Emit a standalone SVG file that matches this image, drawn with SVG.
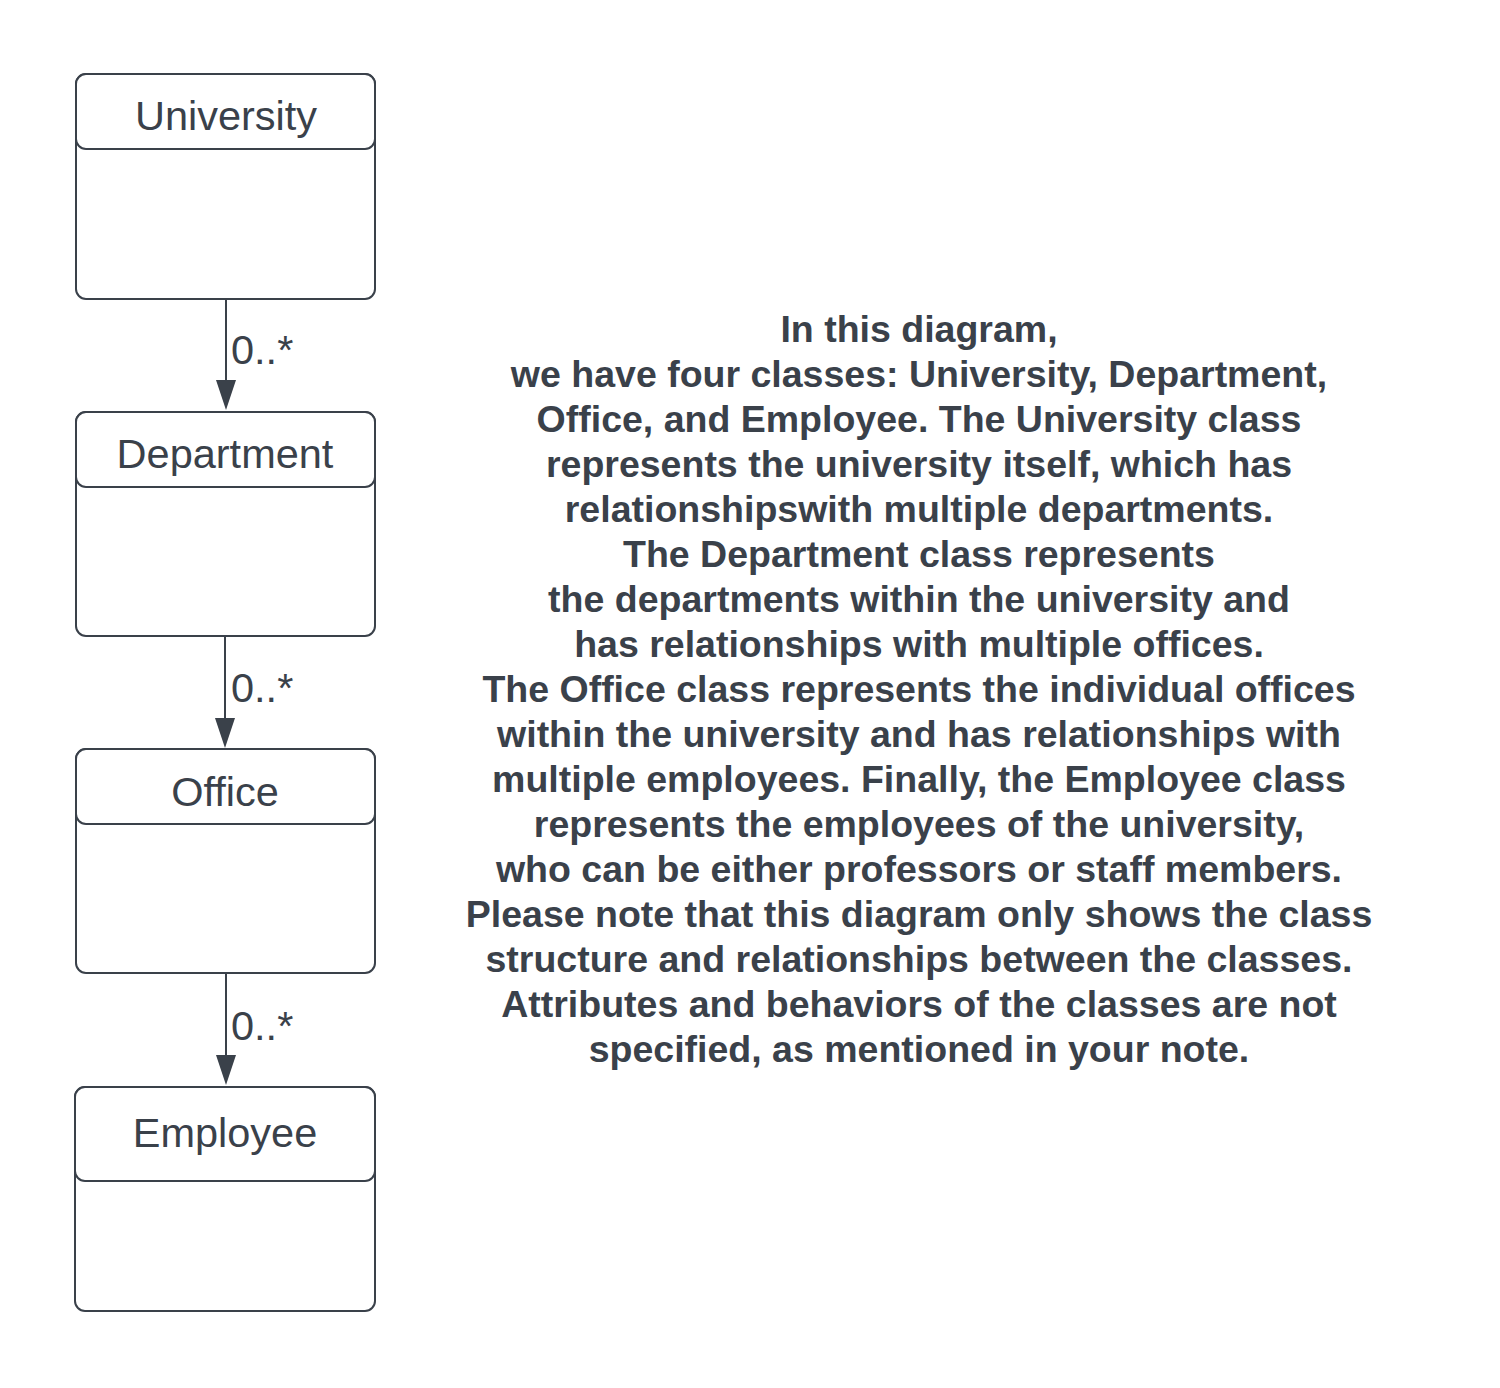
<svg xmlns="http://www.w3.org/2000/svg" width="1500" height="1388" viewBox="0 0 1500 1388">
<defs>
<style>
.box{fill:#fff;stroke:#3a414a;stroke-width:2}
.title{font-family:"Liberation Sans",Arial,sans-serif;font-size:41.5px;fill:#3a414a;text-anchor:middle}
.lbl{font-family:"Liberation Sans",Arial,sans-serif;font-size:41.5px;fill:#3a414a}
.note{font-family:"Liberation Sans",Arial,sans-serif;font-size:37.5px;font-weight:bold;fill:#3a414a;text-anchor:middle}
.edge{stroke:#3a414a;stroke-width:2;fill:none}
.head{fill:#3a414a}
</style>
</defs>
<rect width="1500" height="1388" fill="#fff"/>
<g id="connectors">
<line class="edge" x1="226" y1="299" x2="226" y2="380"/>
<path class="head" d="M216,380 L236,380 L226,410 Z"/>
<text class="lbl" x="231" y="364">0..*</text>
<line class="edge" x1="225" y1="636" x2="225" y2="718"/>
<path class="head" d="M215,718 L235,718 L225,748 Z"/>
<text class="lbl" x="231" y="702">0..*</text>
<line class="edge" x1="226" y1="973" x2="226" y2="1055"/>
<path class="head" d="M216,1055 L236,1055 L226,1085 Z"/>
<text class="lbl" x="231" y="1040">0..*</text>
</g>
<g id="university">
<rect class="box" x="76" y="74" width="299" height="225" rx="10"/>
<rect class="box" x="76" y="74" width="299" height="75" rx="10"/>
<text class="title" x="226" y="130">University</text>
</g>
<g id="department">
<rect class="box" x="76" y="412" width="299" height="224" rx="10"/>
<rect class="box" x="76" y="412" width="299" height="75" rx="10"/>
<text class="title" x="225" y="468">Department</text>
</g>
<g id="office">
<rect class="box" x="76" y="749" width="299" height="224" rx="10"/>
<rect class="box" x="76" y="749" width="299" height="75" rx="10"/>
<text class="title" x="225" y="806">Office</text>
</g>
<g id="employee">
<rect class="box" x="75" y="1087" width="300" height="224" rx="10"/>
<rect class="box" x="75" y="1087" width="300" height="94" rx="10"/>
<text class="title" x="225" y="1147">Employee</text>
</g>
<g id="note">
<text class="note" x="919" y="342">In this diagram,</text>
<text class="note" x="919" y="387">we have four classes: University, Department,</text>
<text class="note" x="919" y="432">Office, and Employee. The University class</text>
<text class="note" x="919" y="477">represents the university itself, which has</text>
<text class="note" x="919" y="522">relationshipswith multiple departments.</text>
<text class="note" x="919" y="567">The Department class represents</text>
<text class="note" x="919" y="612">the departments within the university and</text>
<text class="note" x="919" y="657">has relationships with multiple offices.</text>
<text class="note" x="919" y="702">The Office class represents the individual offices</text>
<text class="note" x="919" y="747">within the university and has relationships with</text>
<text class="note" x="919" y="792">multiple employees. Finally, the Employee class</text>
<text class="note" x="919" y="837">represents the employees of the university,</text>
<text class="note" x="919" y="882">who can be either professors or staff members.</text>
<text class="note" x="919" y="927">Please note that this diagram only shows the class</text>
<text class="note" x="919" y="972">structure and relationships between the classes.</text>
<text class="note" x="919" y="1017">Attributes and behaviors of the classes are not</text>
<text class="note" x="919" y="1062">specified, as mentioned in your note.</text>
</g>
</svg>
